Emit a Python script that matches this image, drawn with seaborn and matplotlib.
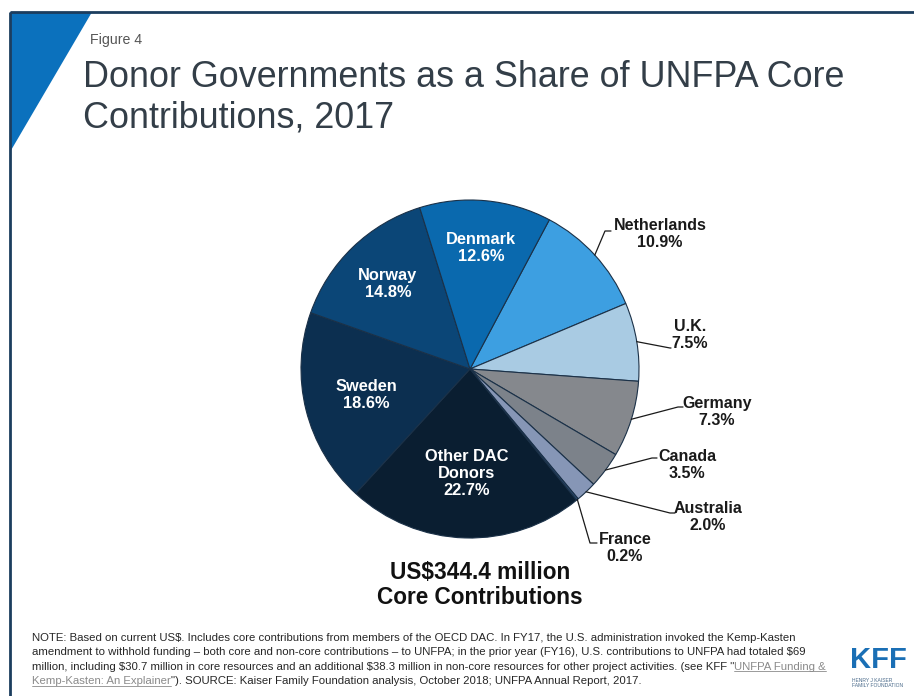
import numpy as np
import matplotlib
matplotlib.use("Agg")
import matplotlib.pyplot as plt
from matplotlib.patches import Polygon
import seaborn as sns

# data
countries = ["Netherlands", "U.K.", "Germany", "Canada", "Australia",
             "France", "Other DAC\nDonors", "Sweden", "Norway", "Denmark"]
shares = [10.9, 7.5, 7.3, 3.5, 2.0, 0.2, 22.7, 18.6, 14.8, 12.6]
slice_colors = ["#3d9fe1", "#a9cbe3", "#85888d", "#7c828a", "#8696b6",
                "#2b4a6e", "#0a1e31", "#0c2f50", "#0b4677", "#0a69ae"]
total_label = "US$344.4 million\nCore Contributions"
title_lines = ["Donor Governments as a Share of UNFPA Core",
               "Contributions, 2017"]
note_lines = [
    [("NOTE: Based on current US$. Includes core contributions from members of the OECD DAC. "
      "In FY17, the U.S. administration invoked the Kemp-Kasten", False)],
    [("amendment to withhold funding \u2013 both core and non-core contributions \u2013 to UNFPA; "
      "in the prior year (FY16), U.S. contributions to UNFPA had totaled $69", False)],
    [("million, including $30.7 million in core resources and an additional $38.3 million in "
      "non-core resources for other project activities. (see KFF \"", False),
     ("UNFPA Funding &", True)],
    [("Kemp-Kasten: An Explainer", True),
     ("\"). SOURCE: Kaiser Family Foundation analysis, October 2018; UNFPA Annual Report, 2017.", False)],
]

sns.set_theme(style="white")
plt.rcParams["font.family"] = ["Liberation Sans", "DejaVu Sans"]

W, H = 914, 696
fig = plt.figure(figsize=(W / 100, H / 100), dpi=100)
ax = fig.add_axes([0, 0, 1, 1])

# pie drawn in pixel coordinates (y axis flipped, so counterclock=True runs clockwise)
center = (470, 369)
radius = 169
wedges, _ = ax.pie(shares, colors=slice_colors, center=center, radius=radius,
                   startangle=-62, counterclock=True,
                   wedgeprops=dict(edgecolor="#1b3148", linewidth=0.8))
ax.set_xlim(0, W)
ax.set_ylim(H, 0)
ax.set_aspect("equal")
ax.axis("off")


def mid_point(wedge, frac):
    theta = np.deg2rad((wedge.theta1 + wedge.theta2) / 2)
    return (center[0] + frac * radius * np.cos(theta),
            center[1] + frac * radius * np.sin(theta))


# labels inside the big slices
inner_frac = {"Other DAC\nDonors": 0.62, "Sweden": 0.63, "Norway": 0.70, "Denmark": 0.72}
# outer labels: elbow, end of leader, text centre
outer_layout = {
    "Netherlands": ((605, 231), (611, 231), (660, 234)),
    "U.K.": ((670, 348), (671, 348), (690, 335)),
    "Germany": ((678, 407), (683, 407), (717, 412)),
    "Canada": ((652, 458), (657, 458), (687, 465)),
    "Australia": ((670, 513), (675, 513), (708, 517)),
    "France": ((590, 543), (597, 543), (625, 548)),
}

for wedge, name, share in zip(wedges, countries, shares):
    label = f"{name}\n{share:.1f}%"
    if name in inner_frac:
        x, y = mid_point(wedge, inner_frac[name])
        ax.text(x, y, label, color="white", fontsize=11.8, fontweight="bold",
                ha="center", va="center", linespacing=1.15)
    else:
        elbow, end, pos = outer_layout[name]
        sx, sy = mid_point(wedge, 1.0)
        ax.plot([sx, elbow[0], end[0]], [sy, elbow[1], end[1]],
                color="#1a1a1a", lw=0.9)
        ax.text(pos[0], pos[1], label, color="#1a1a1a", fontsize=11.5,
                fontweight="bold", ha="center", va="center", linespacing=1.15)

ax.text(480, 585, total_label, fontsize=16.3, fontweight="bold", color="#111111",
        ha="center", va="center", linespacing=1.15, parse_math=False)

# frame and title
ax.add_patch(Polygon([(10, 12), (92, 12), (10, 152)], closed=True,
                     facecolor="#0b71bd", edgecolor="none"))
ax.plot([10, W], [12, 12], color="#1c3d5e", lw=2, solid_capstyle="butt")
ax.plot([10, 10], [12, H], color="#1c3d5e", lw=2, solid_capstyle="butt")

ax.text(90, 40, "Figure 4", fontsize=10.2, color="#555555", va="center")
for i, line in enumerate(title_lines):
    ax.text(83, 87 + i * 40, line, fontsize=25.8, color="#333e48",
            va="baseline", ha="left")

# footnote with link-styled pieces
renderer = fig.canvas.get_renderer()
to_data = ax.transData.inverted()
for i, line in enumerate(note_lines):
    x = 32
    y = 641 + i * 14.3
    for seg, link in line:
        t = ax.text(x, y, seg, fontsize=8.2, color="#8a8a8a" if link else "#262626",
                    ha="left", va="baseline", parse_math=False)
        bb = t.get_window_extent(renderer)
        (x0, _), (x1, _) = to_data.transform([[bb.x0, bb.y0], [bb.x1, bb.y1]])
        if link:
            ax.plot([x0, x1], [y + 1.6, y + 1.6], color="#8a8a8a", lw=0.6)
        x = x1

# KFF mark
ax.text(878, 668, "KFF", fontsize=21, fontweight="bold", color="#1a6fb5",
        ha="center", va="baseline")
ax.text(852, 683, "HENRY J KAISER\nFAMILY FOUNDATION", fontsize=3.6,
        color="#4a6a8a", ha="left", va="center", linespacing=1.1)

fig.savefig("out.png", dpi=100)
